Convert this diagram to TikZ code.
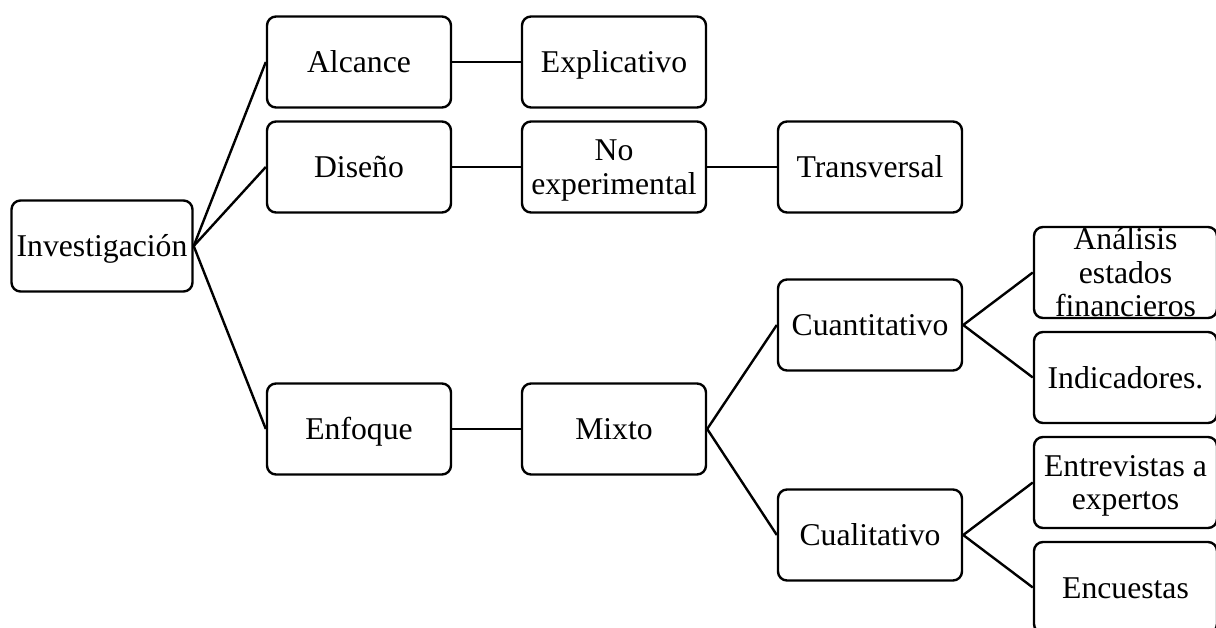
\documentclass[tikz,border=0pt]{standalone}
\usepackage{fontspec}
\setmainfont{Liberation Serif}
\tikzset{
  box/.style={draw=black,line width=2.4pt,rounded corners=9pt,inner sep=0pt},
  boxtext/.style={inner sep=0pt,align=center,yshift=-4pt,font=\fontsize{31.7}{33.5}\selectfont},
  link/.style={draw=black,line width=2.4pt}
}
\newcommand{\bx}[6]{\node[box,minimum width=#4*1pt,minimum height=#5*1pt] (#1) at (#2*1pt,-#3*1pt) {};\node[boxtext] (#1t) at (#1.center) {#6};}
\begin{document}
\begin{tikzpicture}[x=1pt,y=1pt]
\useasboundingbox (0,0) rectangle (1216,-628);
\clip (0,0) rectangle (1216,-628);
\bx{inv}{102}{246}{181}{91}{\strut Investigación}
\bx{alc}{359}{62}{184}{91}{\strut Alcance}
\bx{dis}{359}{167}{184}{91}{\strut Diseño}
\bx{enf}{359}{429}{184}{91}{\strut Enfoque}
\bx{exp}{614}{62}{184}{91}{\strut Explicativo}
\bx{noe}{614}{167}{184}{91}{\strut No\\\strut experimental}
\bx{tra}{870}{167}{184}{91}{\strut Transversal}
\bx{mix}{614}{429}{184}{91}{\strut Mixto}
\bx{can}{870}{325}{184}{91}{\strut Cuantitativo}
\bx{cua}{870}{535}{184}{91}{\strut Cualitativo}
\bx{ana}{1125.5}{272.5}{183}{91}{\strut Análisis\\\strut estados\\\strut financieros}
\bx{ind}{1125.5}{377.5}{183}{91}{\strut Indicadores.}
\bx{ent}{1125.5}{482.5}{183}{91}{\strut Entrevistas a\\\strut expertos}
\bx{enc}{1125.5}{587.5}{183}{91}{\strut Encuestas}
\foreach \a/\b in {inv/alc,inv/dis,inv/enf,alc/exp,dis/noe,noe/tra,enf/mix,mix/can,mix/cua,can/ana,can/ind,cua/ent,cua/enc}
  \draw[link] (\a.east) -- (\b.west);
\end{tikzpicture}
\end{document}
